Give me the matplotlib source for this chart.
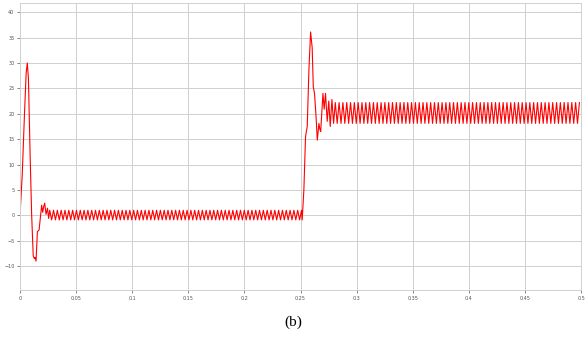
import numpy as np
import matplotlib
matplotlib.use('Agg')
import matplotlib.pyplot as plt

# transient after start (time s, value)
start_t = [0, 0.002, 0.004, 0.0055, 0.0065, 0.0075, 0.009, 0.0104, 0.0118,
           0.0128, 0.0134, 0.0143, 0.0155, 0.017, 0.0193, 0.0202, 0.0212,
           0.022, 0.0232, 0.0245, 0.0255]
start_y = [0, 8, 20, 28, 30, 27, 12, 0, -8, -8.5, -8.3, -9, -3.2, -2.9, 2.0,
           0.6, 1.8, 2.4, 0.2, 1.4, -0.6]

# transient after step at 0.25 s
step_t = [0.2515, 0.253, 0.2545, 0.256, 0.2575, 0.259, 0.2604, 0.2614, 0.2625,
          0.2637, 0.265, 0.2664, 0.2672, 0.268, 0.27, 0.2711, 0.2723, 0.2738,
          0.2752, 0.2765, 0.278, 0.2795]
step_y = [-0.9, 5, 15.5, 17.5, 28.6, 36.1, 33, 25.3, 24, 20, 14.8, 18.1, 17,
          16.5, 24, 20.9, 24, 18.5, 22.5, 17.5, 22.8, 18.1]

# steady ripple: (start, end, low, high)
ripple_a = (0.0265, 0.2515, -0.9, 1.0)
ripple_b = (0.281, 0.5, 18.1, 22.2)
ripple_period = 0.0034

xticks = [0, 0.05, 0.1, 0.15, 0.2, 0.25, 0.3, 0.35, 0.4, 0.45, 0.5]
xtick_names = ['0', '0.05', '0.1', '0.15', '0.2', '0.25', '0.3', '0.35',
               '0.4', '0.45', '0.5']
yticks = [-10, -5, 0, 5, 10, 15, 20, 25, 30, 35, 40]


def ripple(seg):
    t0, t1, lo, hi = seg
    tt = np.arange(t0, t1, ripple_period / 2)
    yy = np.where(np.arange(len(tt)) % 2 == 0, hi, lo)
    return list(tt), list(yy)


ra_t, ra_y = ripple(ripple_a)
rb_t, rb_y = ripple(ripple_b)
T = start_t + ra_t + step_t + rb_t
Y = start_y + ra_y + step_y + rb_y

fig = plt.figure(figsize=(5.86, 3.45), dpi=100)
ax = fig.add_axes([20/586, 1-290/345, 561/586, 287/345])

ax.plot(T, Y, color='red', lw=0.8)

ax.set_xlim(0, 0.5)
ax.set_ylim(-14.7, 41.8)
ax.set_xticks(xticks)
ax.set_xticklabels(xtick_names)
ax.set_yticks(yticks)
ax.grid(True, color='#cfcfcf', lw=0.7)
for s in ax.spines.values():
    s.set_color('#d0d0d0')
    s.set_linewidth(0.7)
ax.tick_params(axis='both', labelsize=3.5, colors='#555555', length=2,
               width=0.5, pad=2)

fig.text(0.5, 1-322/345, '(b)', ha='center', va='center',
         family='Liberation Serif', fontsize=11)

fig.savefig('out.png', dpi=100)
